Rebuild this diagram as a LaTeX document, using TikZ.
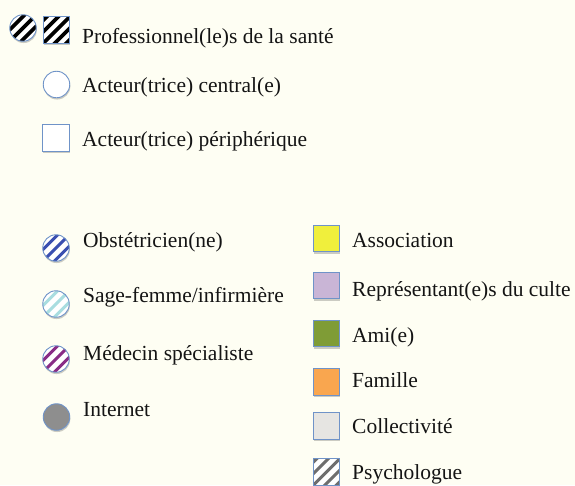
\documentclass[tikz,border=0pt]{standalone}
\usepackage{fontspec}
\setmainfont{Liberation Serif}
\usetikzlibrary{calc,shadows}

\definecolor{paper}{HTML}{FEFEF3}
\definecolor{rim}{HTML}{6F93C8}
\definecolor{obst}{HTML}{3A4FB0}
\definecolor{sage}{HTML}{A9DDE0}
\definecolor{medspec}{HTML}{892C86}
\definecolor{psy}{HTML}{6E6E6E}
\definecolor{internet}{HTML}{8E8E8E}
\definecolor{assoc}{HTML}{F0EF3C}
\definecolor{culte}{HTML}{C9B5D6}
\definecolor{ami}{HTML}{7F9C36}
\definecolor{famille}{HTML}{F9A64F}
\definecolor{collect}{HTML}{E6E5E2}

\tikzset{
  soft/.style={drop shadow={shadow xshift=0.6pt, shadow yshift=-1.8pt, opacity=0.2, fill=black}},
  keyround/.style={circle, draw=rim, line width=0.9pt, minimum size=26.5pt, inner sep=0pt, soft},
  keysquare/.style={rectangle, draw=rim, line width=0.9pt, minimum size=26.5pt, inner sep=0pt, soft},
  stripes/.style 2 args={fill=white, path picture={
      \foreach \k in {-3,...,3}{
        \draw[#1, line width=#2]
          ($(path picture bounding box.center)+(\k*11.5pt-22pt,-22pt)$) -- ++(44pt,44pt);
      }}},
  label/.style={anchor=base west, inner sep=0pt, font=\fontsize{21.5}{24}\selectfont, text=black!92},
}

\begin{document}
\begin{tikzpicture}[x=1pt, y=-1pt]
  \fill[paper] (0,0) rectangle (575,485);
  \useasboundingbox (0,0) rectangle (575,485);

  % health professionals: hatched round and square marks
  \node[keyround, stripes={black}{3.6pt}] (proround) at (23,28) {};
  \node[keysquare, stripes={black}{3.6pt}] (prosquare) at (56.5,30) {};
  \node[label] (protxt) at (82,43) {Professionnel(le)s de la santé};

  % central and peripheral actors
  \node[keyround, fill=white] (central) at (56.5,84.5) {};
  \node[label] (centraltxt) at (82,92) {Acteur(trice) central(e)};
  \node[keysquare, fill=white] (periph) at (56,138) {};
  \node[label] (periphtxt) at (82,146) {Acteur(trice) périphérique};

  % left column: round marks
  \node[keyround, stripes={obst}{3.1pt}] (obst) at (56,248) {};
  \node[label] (obsttxt) at (83,247) {Obstétricien(ne)};
  \node[keyround, stripes={sage}{3.1pt}] (sagef) at (56,304) {};
  \node[label] (sageftxt) at (83,302) {Sage-femme/infirmière};
  \node[keyround, stripes={medspec}{3.1pt}] (medsp) at (56,359) {};
  \node[label] (medsptxt) at (83,360) {Médecin spécialiste};
  \node[keyround, fill=internet] (inet) at (56.5,417) {};
  \node[label] (inettxt) at (83,416) {Internet};

  % right column: square marks
  \node[keysquare, fill=assoc] (assoc) at (326.5,238.5) {};
  \node[label] (assoctxt) at (352,247) {Association};
  \node[keysquare, fill=culte] (culte) at (326.5,285.5) {};
  \node[label] (cultetxt) at (352,296) {Représentant(e)s du culte};
  \node[keysquare, fill=ami] (ami) at (326.5,333.5) {};
  \node[label] (amitxt) at (352,342) {Ami(e)};
  \node[keysquare, fill=famille] (fam) at (326.5,382) {};
  \node[label] (famtxt) at (352,387) {Famille};
  \node[keysquare, fill=collect] (coll) at (326.5,426) {};
  \node[label] (colltxt) at (352,433) {Collectivité};
  \node[keysquare, stripes={psy}{3.1pt}] (psy) at (326.5,472) {};
  \node[label] (psytxt) at (352,479) {Psychologue};
\end{tikzpicture}
\end{document}
